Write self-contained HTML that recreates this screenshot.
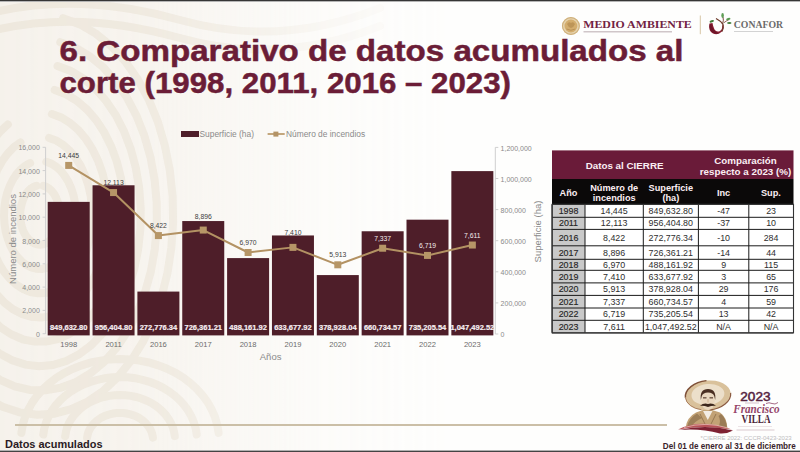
<!DOCTYPE html>
<html><head><meta charset="utf-8">
<style>
html,body{margin:0;padding:0;}
body{width:800px;height:452px;overflow:hidden;position:relative;background:#fefefd;font-family:"Liberation Sans",sans-serif;}
.abs{position:absolute;white-space:nowrap;}
.title{color:#6d1b36;font-weight:bold;font-size:30.5px;line-height:32px;}
svg text{font-family:"Liberation Sans",sans-serif;}
.ax{font-size:7px;fill:#8a8a8a;}
.cat{font-size:7.6px;fill:#6c6c6c;}
.bl{font-size:7.5px;font-weight:bold;fill:#f7eff2;stroke:#f7eff2;stroke-width:0.2px;}
.ll{font-size:6.8px;}
.at{font-size:9.5px;fill:#8a8a8a;}
.lg{font-size:8.4px;fill:#8a8a8a;}
.th{font-size:9.8px;font-weight:bold;}
.th2{font-size:9.2px;font-weight:bold;}
.td{font-size:8.9px;fill:#2e2e2e;}
.tdy{font-size:8.9px;fill:#262626;stroke:#262626;stroke-width:0.15px;}
</style></head>
<body>
<svg class="abs" style="left:0;top:0" width="800" height="452" viewBox="0 0 800 452">
<defs><linearGradient id="fade" x1="0" y1="0" x2="1" y2="0">
<stop offset="0" stop-color="#fff" stop-opacity="1"/>
<stop offset="0.3" stop-color="#fff" stop-opacity="0.85"/>
<stop offset="0.7" stop-color="#fff" stop-opacity="0.2"/>
<stop offset="1" stop-color="#fff" stop-opacity="0"/>
</linearGradient><mask id="m"><rect x="0" y="0" width="460" height="452" fill="url(#fade)"/></mask></defs>
<rect x="0" y="0" width="800" height="452" fill="#fefefd"/>
<rect x="0" y="0" width="460" height="452" fill="#f3eee6" mask="url(#m)" opacity="0.75"/>
<g mask="url(#m)" fill="none" stroke="#eee8dd" stroke-linecap="round">
<path d="M43.4 185.8 L46.3 186.8 L49.0 188.5 L51.5 190.8 L53.8 193.6 L55.7 196.9 L57.3 200.6 L58.5 204.6 L59.4 208.8 L59.8 213.2 L59.7 217.6 L59.3 221.9 L58.4 226.1 L57.1 230.1 L55.4 233.7 L53.4 236.9 L51.1 239.6 L48.5 241.8 L45.8 243.4 L42.9 244.4 L40.0 244.7 L37.1 244.4 L34.2 243.4 L31.5 241.8 L28.9 239.6 L26.6 236.9 L24.6 233.7 L22.9 230.1 L21.6 226.1 L20.7 221.9 L20.3 217.6 L20.2 213.2 L20.6 208.8 L21.5 204.6 L22.7 200.6 L24.3 196.9 L26.2 193.6 L28.5 190.8 L31.0 188.5 L33.7 186.8 L36.6 185.8" stroke-width="8"/>
<path d="M46.3 161.8 L51.3 163.7 L56.2 166.8 L60.7 170.8 L64.7 175.8 L68.3 181.6 L71.2 188.1 L73.5 195.2 L75.0 202.7 L75.9 210.4 L75.9 218.3 L75.2 226.1 L73.8 233.6 L71.6 240.8 L68.8 247.4 L65.3 253.4 L61.4 258.5 L56.9 262.7 L52.1 265.8 L47.1 267.9 L41.9 268.9 L36.6 268.8 L31.5 267.5 L26.5 265.1 L21.8 261.6 L17.5 257.1 L13.6 251.8 L10.3 245.6 L7.7 238.8 L5.7 231.6 L4.5 223.9 L4.0 216.1 L4.3 208.2 L5.3 200.5 L7.1 193.1 L9.6 186.2 L12.7 179.9 L16.4 174.3 L20.6 169.6 L25.2 165.8 L30.1 163.1" stroke-width="8"/>
<path d="M49.1 137.9 L56.3 140.6 L63.2 144.9 L69.6 150.5 L75.5 157.5 L80.6 165.7 L84.8 174.9 L88.2 184.9 L90.6 195.5 L91.9 206.5 L92.2 217.7 L91.4 228.9 L89.5 239.7 L86.7 250.1 L82.9 259.7 L78.2 268.4 L72.7 276.0 L66.6 282.4 L59.9 287.4 L52.8 290.9 L45.5 292.9 L38.0 293.2 L30.6 292.0 L23.4 289.2 L16.5 284.9 L10.1 279.1 L4.3 272.1 L-0.8 263.8 L-5.0 254.6 L-8.3 244.6 L-10.6 233.9 L-11.9 222.9 L-12.2 211.7 L-11.3 200.6 L-9.4 189.8 L-6.5 179.5 L-2.7 169.9 L2.1 161.2 L7.6 153.6 L13.7 147.3 L20.4 142.4" stroke-width="8"/>
<path d="M51.9 114.0 L61.2 117.4 L70.1 122.9 L78.4 130.1 L85.9 139.0 L92.6 149.4 L98.2 161.1 L102.7 173.8 L105.9 187.4 L107.8 201.5 L108.4 215.9 L107.6 230.3 L105.5 244.3 L102.2 257.8 L97.6 270.4 L91.8 282.0 L85.1 292.2 L77.4 300.9 L69.0 307.9 L60.1 313.1 L50.7 316.3 L41.1 317.6 L31.5 316.8 L22.1 314.0 L13.1 309.3 L4.5 302.7 L-3.3 294.4 L-10.3 284.5 L-16.3 273.3 L-21.2 260.9 L-24.9 247.6 L-27.3 233.6 L-28.3 219.3 L-28.1 204.9 L-26.5 190.7 L-23.5 177.0 L-19.4 164.0 L-14.0 152.0 L-7.6 141.3 L-0.3 132.0 L7.9 124.4" stroke-width="8"/>
<path d="M54.7 90.0 L66.0 94.2 L76.8 100.7 L86.9 109.4 L96.2 120.1 L104.3 132.6 L111.3 146.6 L116.9 162.0 L121.0 178.3 L123.6 195.4 L124.6 212.8 L124.0 230.2 L121.8 247.4 L118.0 264.0 L112.8 279.6 L106.2 294.0 L98.3 306.9 L89.4 318.1 L79.5 327.3 L68.8 334.3 L57.6 339.1 L46.0 341.6 L34.4 341.6 L22.8 339.3 L11.6 334.5 L0.9 327.6 L-9.0 318.4 L-18.0 307.4 L-25.9 294.5 L-32.6 280.2 L-37.9 264.6 L-41.7 248.1 L-43.9 230.9 L-44.6 213.4 L-43.6 196.0 L-41.1 179.0 L-37.0 162.6 L-31.5 147.2 L-24.6 133.1 L-16.5 120.5 L-7.3 109.8" stroke-width="8"/>
<path d="M57.5 66.1 L70.7 71.0 L83.4 78.5 L95.3 88.6 L106.1 100.9 L115.8 115.3 L124.1 131.5 L130.8 149.3 L135.9 168.3 L139.2 188.1 L140.7 208.4 L140.4 228.8 L138.2 249.0 L134.3 268.6 L128.6 287.1 L121.3 304.4 L112.5 320.0 L102.4 333.7 L91.2 345.3 L79.0 354.4 L66.1 361.0 L52.7 365.0 L39.1 366.2 L25.5 364.6 L12.2 360.3 L-0.6 353.4 L-12.7 343.9 L-23.8 332.1 L-33.7 318.1 L-42.3 302.3 L-49.4 284.8 L-54.9 266.1 L-58.6 246.4 L-60.5 226.2 L-60.6 205.8 L-58.9 185.5 L-55.3 165.8 L-50.0 146.9 L-43.1 129.4 L-34.6 113.3 L-24.8 99.2" stroke-width="8"/>
<path d="M60.3 42.2 L75.4 47.7 L89.8 56.2 L103.4 67.5 L115.8 81.4 L126.9 97.6 L136.5 115.8 L144.4 135.9 L150.5 157.3 L154.6 179.7 L156.7 202.8 L156.8 226.0 L154.8 249.1 L150.8 271.6 L144.8 293.0 L137.0 313.1 L127.5 331.5 L116.5 347.9 L104.1 361.9 L90.6 373.3 L76.2 381.9 L61.1 387.6 L45.7 390.3 L30.2 389.9 L14.9 386.4 L-0.0 379.9 L-14.2 370.5 L-27.4 358.4 L-39.5 343.8 L-50.2 326.9 L-59.2 308.0 L-66.5 287.5 L-72.0 265.7 L-75.5 243.1 L-77.0 219.9 L-76.4 196.7 L-73.7 173.7 L-69.1 151.5 L-62.5 130.5 L-54.2 110.9 L-44.2 93.1" stroke-width="8"/>
<path d="M63.1 18.2 L79.9 24.4 L96.1 33.8 L111.3 46.2 L125.3 61.5 L137.8 79.4 L148.7 99.5 L157.8 121.7 L164.8 145.4 L169.8 170.2 L172.6 195.9 L173.1 221.8 L171.4 247.6 L167.5 272.9 L161.4 297.2 L153.3 320.1 L143.2 341.3 L131.4 360.3 L118.1 376.8 L103.5 390.7 L87.7 401.5 L71.2 409.2 L54.2 413.7 L36.9 414.7 L19.6 412.4 L2.7 406.8 L-13.5 397.9 L-28.9 386.0 L-43.1 371.1 L-55.9 353.7 L-67.1 333.8 L-76.4 312.0 L-83.8 288.6 L-89.2 263.8 L-92.3 238.3 L-93.2 212.4 L-91.8 186.5 L-88.3 161.1 L-82.5 136.6 L-74.7 113.4 L-65.0 92.0" stroke-width="8"/>
<path d="M87.1 437.6 L87.6 435.0 L88.3 432.4 L89.4 429.9 L90.8 427.5 L92.4 425.2 L94.4 423.0 L96.5 421.0 L98.9 419.2 L101.5 417.6 L104.3 416.2 L107.3 415.1 L110.4 414.2 L113.5 413.5 L116.7 413.1 L120.0 413.0 L123.3 413.1 L126.5 413.5 L129.6 414.2 L132.7 415.1 L135.7 416.2 L138.5 417.6 L141.1 419.2 L143.5 421.0 L145.6 423.0 L147.6 425.2 L149.2 427.5 L150.6 429.9 L151.7 432.4 L152.4 435.0 L152.9 437.6" stroke-width="8"/>
<path d="M65.2 436.1 L66.0 431.7 L67.2 427.3 L69.0 423.1 L71.3 419.1 L74.0 415.3 L77.3 411.7 L80.9 408.4 L84.9 405.4 L89.2 402.7 L93.9 400.4 L98.8 398.5 L103.9 397.0 L109.2 395.9 L114.6 395.2 L120.0 395.0 L125.4 395.2 L130.8 395.9 L136.1 397.0 L141.2 398.5 L146.1 400.4 L150.8 402.7 L155.1 405.4 L159.1 408.4 L162.7 411.7 L166.0 415.3 L168.7 419.1 L171.0 423.1 L172.8 427.3 L174.0 431.7 L174.8 436.1" stroke-width="8"/>
<path d="M43.3 434.5 L44.3 428.3 L46.1 422.3 L48.6 416.4 L51.8 410.7 L55.7 405.4 L60.2 400.4 L65.2 395.7 L70.8 391.5 L76.9 387.8 L83.5 384.5 L90.3 381.9 L97.5 379.8 L104.9 378.2 L112.4 377.3 L120.0 377.0 L127.6 377.3 L135.1 378.2 L142.5 379.8 L149.7 381.9 L156.5 384.5 L163.1 387.8 L169.2 391.5 L174.8 395.7 L179.8 400.4 L184.3 405.4 L188.2 410.7 L191.4 416.4 L193.9 422.3 L195.7 428.3 L196.7 434.5" stroke-width="8"/>
<path d="M21.4 432.9 L22.7 425.0 L25.0 417.2 L28.2 409.7 L32.3 402.4 L37.3 395.5 L43.1 389.0 L49.6 383.1 L56.8 377.6 L64.6 372.8 L73.0 368.7 L81.8 365.3 L91.1 362.5 L100.5 360.6 L110.2 359.4 L120.0 359.0 L129.8 359.4 L139.5 360.6 L148.9 362.5 L158.2 365.3 L167.0 368.7 L175.4 372.8 L183.2 377.6 L190.4 383.1 L196.9 389.0 L202.7 395.5 L207.7 402.4 L211.8 409.7 L215.0 417.2 L217.3 425.0 L218.6 432.9" stroke-width="8"/>
<path d="M-5 12 Q80 -8 180 20 T380 8" stroke-width="8"/>
<path d="M-5 30 Q80 10 180 38 T380 26" stroke-width="8"/>
</g></svg>
<div class="abs" style="left:0;top:0;width:800px;height:1px;background:#363636"></div><div class="abs" style="left:0;top:1px;width:800px;height:1px;background:#b5b5b5"></div>
<div class="abs" style="left:0;top:450px;width:800px;height:1px;background:#b0b0b0"></div><div class="abs" style="left:0;top:451px;width:800px;height:1px;background:#444"></div>

<svg class="abs" style="left:0;top:0" width="800" height="452" viewBox="0 0 800 452">
<text x="59.5" y="60.6" style="font-weight:bold;font-size:30px" fill="#6b1d37" textLength="624" lengthAdjust="spacingAndGlyphs" stroke="#6b1d37" stroke-width="0.5">6. Comparativo de datos acumulados al</text>
<text x="59.5" y="92.5" style="font-weight:bold;font-size:30px" fill="#6b1d37" textLength="451.5" lengthAdjust="spacingAndGlyphs" stroke="#6b1d37" stroke-width="0.5">corte (1998, 2011, 2016 – 2023)</text>
</svg>
<svg class="abs" style="left:0;top:0" width="800" height="452" viewBox="0 0 800 452">
<!-- seal -->
<circle cx="570.9" cy="26" r="9" fill="#e6d3ae"/>
<circle cx="570.9" cy="26" r="8.4" fill="none" stroke="#cfb07c" stroke-width="1.1"/>
<circle cx="570.9" cy="26" r="6.4" fill="#d3ad6e"/>
<path d="M567 24 q2 -3 4 -1 q2 -2 4 1 q-1 3 -4 4 q-3 -1 -4 -4z" fill="#b88f52" opacity="0.8"/>
<path d="M566.5 29 q4.4 2.5 8.8 0" fill="none" stroke="#b78e55" stroke-width="0.9"/>
<text x="583.2" y="27.7" style="font-family:'Liberation Serif'" font-weight="bold" font-size="10.6" fill="#722343" textLength="108.6" lengthAdjust="spacingAndGlyphs">MEDIO AMBIENTE</text>
<rect x="583.5" y="31.2" width="88.5" height="1.2" fill="#c5b8bc"/>
<rect x="699.8" y="15.5" width="1" height="18.7" fill="#d8c6a6"/>
<!-- conafor icon -->
<path d="M709.5 23.5 Q708 31 713 33.5 Q718 35.5 722 31.5 Q723.8 28.5 723.5 25 L722.2 25.5 Q722.5 29.5 720 31 Q716.5 32.5 714.5 29.5 Q713 26.5 712.5 23z" fill="#8a1f33"/>
<path d="M709.5 24.5 Q709 30 712.5 32.5 Q716 34.5 719 33.5 Q714 31 712.5 27.5 Q711.5 25.5 711.5 24z" fill="#6e1528"/>
<path d="M716 18.5 Q721 21 723 24.5 Q724 28 722 31.5" fill="none" stroke="#6d3a2a" stroke-width="1.3"/>
<path d="M722.5 24 Q724 20 723 17" fill="none" stroke="#6d3a2a" stroke-width="0.9"/>
<path d="M723.5 23 Q726 21 729 19.5" fill="none" stroke="#6d3a2a" stroke-width="0.8"/>
<ellipse cx="711.8" cy="21.3" rx="2.3" ry="1.1" transform="rotate(-20 711.8 21.3)" fill="#3f7a35"/>
<ellipse cx="722.6" cy="15.5" rx="1.3" ry="2.4" fill="#5f9e57"/>
<ellipse cx="728.3" cy="19" rx="2.2" ry="1.1" transform="rotate(-15 728.3 19)" fill="#5a9a4f"/>
<ellipse cx="729.3" cy="23" rx="2.2" ry="1.1" fill="#3f7d38"/>
<text x="733.8" y="28" style="font-family:'Liberation Serif'" font-weight="bold" font-size="10" fill="#6b6b6b" textLength="49.2" lengthAdjust="spacingAndGlyphs">CONAFOR</text>
<rect x="734" y="31" width="39" height="0.9" fill="#cfcfcf"/>
</svg>

<svg class="abs" style="left:0;top:0" width="800" height="452" viewBox="0 0 800 452">
<line x1="45.6" y1="147.3" x2="45.6" y2="334" stroke="#cfcfcf" stroke-width="1"/>
<line x1="495.3" y1="147.3" x2="495.3" y2="334" stroke="#cfcfcf" stroke-width="1"/>
<line x1="42.6" y1="333.70" x2="45.6" y2="333.70" stroke="#cfcfcf" stroke-width="1"/>
<text x="39.8" y="336.70" text-anchor="end" class="ax">0</text>
<line x1="42.6" y1="310.40" x2="45.6" y2="310.40" stroke="#cfcfcf" stroke-width="1"/>
<text x="39.8" y="313.40" text-anchor="end" class="ax">2,000</text>
<line x1="42.6" y1="287.10" x2="45.6" y2="287.10" stroke="#cfcfcf" stroke-width="1"/>
<text x="39.8" y="290.10" text-anchor="end" class="ax">4,000</text>
<line x1="42.6" y1="263.80" x2="45.6" y2="263.80" stroke="#cfcfcf" stroke-width="1"/>
<text x="39.8" y="266.80" text-anchor="end" class="ax">6,000</text>
<line x1="42.6" y1="240.50" x2="45.6" y2="240.50" stroke="#cfcfcf" stroke-width="1"/>
<text x="39.8" y="243.50" text-anchor="end" class="ax">8,000</text>
<line x1="42.6" y1="217.20" x2="45.6" y2="217.20" stroke="#cfcfcf" stroke-width="1"/>
<text x="39.8" y="220.20" text-anchor="end" class="ax">10,000</text>
<line x1="42.6" y1="193.90" x2="45.6" y2="193.90" stroke="#cfcfcf" stroke-width="1"/>
<text x="39.8" y="196.90" text-anchor="end" class="ax">12,000</text>
<line x1="42.6" y1="170.60" x2="45.6" y2="170.60" stroke="#cfcfcf" stroke-width="1"/>
<text x="39.8" y="173.60" text-anchor="end" class="ax">14,000</text>
<line x1="42.6" y1="147.30" x2="45.6" y2="147.30" stroke="#cfcfcf" stroke-width="1"/>
<text x="39.8" y="150.30" text-anchor="end" class="ax">16,000</text>
<line x1="495.3" y1="334.00" x2="498.3" y2="334.00" stroke="#cfcfcf" stroke-width="1"/>
<text x="500.6" y="337.20" text-anchor="start" class="ax">0</text>
<line x1="495.3" y1="302.90" x2="498.3" y2="302.90" stroke="#cfcfcf" stroke-width="1"/>
<text x="500.6" y="306.10" text-anchor="start" class="ax">200,000</text>
<line x1="495.3" y1="271.80" x2="498.3" y2="271.80" stroke="#cfcfcf" stroke-width="1"/>
<text x="500.6" y="275.00" text-anchor="start" class="ax">400,000</text>
<line x1="495.3" y1="240.70" x2="498.3" y2="240.70" stroke="#cfcfcf" stroke-width="1"/>
<text x="500.6" y="243.90" text-anchor="start" class="ax">600,000</text>
<line x1="495.3" y1="209.60" x2="498.3" y2="209.60" stroke="#cfcfcf" stroke-width="1"/>
<text x="500.6" y="212.80" text-anchor="start" class="ax">800,000</text>
<line x1="495.3" y1="178.50" x2="498.3" y2="178.50" stroke="#cfcfcf" stroke-width="1"/>
<text x="500.6" y="181.70" text-anchor="start" class="ax">1,000,000</text>
<line x1="495.3" y1="147.40" x2="498.3" y2="147.40" stroke="#cfcfcf" stroke-width="1"/>
<text x="500.6" y="150.60" text-anchor="start" class="ax">1,200,000</text>
<rect x="47.70" y="201.88" width="42" height="133.52" fill="#4e1e29"/>
<text x="68.70" y="329.8" text-anchor="middle" class="bl">849,632.80</text>
<text x="68.70" y="347.2" text-anchor="middle" class="cat">1998</text>
<rect x="92.55" y="185.28" width="42" height="150.12" fill="#4e1e29"/>
<text x="113.55" y="329.8" text-anchor="middle" class="bl">956,404.80</text>
<text x="113.55" y="347.2" text-anchor="middle" class="cat">2011</text>
<rect x="137.40" y="291.58" width="42" height="43.82" fill="#4e1e29"/>
<text x="158.40" y="329.8" text-anchor="middle" class="bl">272,776.34</text>
<text x="158.40" y="347.2" text-anchor="middle" class="cat">2016</text>
<rect x="182.25" y="221.05" width="42" height="114.35" fill="#4e1e29"/>
<text x="203.25" y="329.8" text-anchor="middle" class="bl">726,361.21</text>
<text x="203.25" y="347.2" text-anchor="middle" class="cat">2017</text>
<rect x="227.10" y="258.09" width="42" height="77.31" fill="#4e1e29"/>
<text x="248.10" y="329.8" text-anchor="middle" class="bl">488,161.92</text>
<text x="248.10" y="347.2" text-anchor="middle" class="cat">2018</text>
<rect x="271.95" y="235.46" width="42" height="99.94" fill="#4e1e29"/>
<text x="292.95" y="329.8" text-anchor="middle" class="bl">633,677.92</text>
<text x="292.95" y="347.2" text-anchor="middle" class="cat">2019</text>
<rect x="316.80" y="275.08" width="42" height="60.32" fill="#4e1e29"/>
<text x="337.80" y="329.8" text-anchor="middle" class="bl">378,928.04</text>
<text x="337.80" y="347.2" text-anchor="middle" class="cat">2020</text>
<rect x="361.65" y="231.26" width="42" height="104.14" fill="#4e1e29"/>
<text x="382.65" y="329.8" text-anchor="middle" class="bl">660,734.57</text>
<text x="382.65" y="347.2" text-anchor="middle" class="cat">2021</text>
<rect x="406.50" y="219.68" width="42" height="115.72" fill="#4e1e29"/>
<text x="427.50" y="329.8" text-anchor="middle" class="bl">735,205.54</text>
<text x="427.50" y="347.2" text-anchor="middle" class="cat">2022</text>
<rect x="451.35" y="171.11" width="42" height="164.29" fill="#4e1e29"/>
<text x="472.35" y="329.8" text-anchor="middle" class="bl">1,047,492.52</text>
<text x="472.35" y="347.2" text-anchor="middle" class="cat">2023</text>
<polyline points="68.70,165.42 113.55,192.58 158.40,235.58 203.25,230.06 248.10,252.50 292.95,247.37 337.80,264.81 382.65,248.22 427.50,255.42 472.35,245.03" fill="none" stroke="#b39263" stroke-width="2" stroke-linejoin="round"/>
<rect x="65.20" y="161.92" width="7" height="7" fill="#b69667"/>
<rect x="110.05" y="189.08" width="7" height="7" fill="#b69667"/>
<rect x="154.90" y="232.08" width="7" height="7" fill="#b69667"/>
<rect x="199.75" y="226.56" width="7" height="7" fill="#b69667"/>
<rect x="244.60" y="249.00" width="7" height="7" fill="#b69667"/>
<rect x="289.45" y="243.87" width="7" height="7" fill="#b69667"/>
<rect x="334.30" y="261.31" width="7" height="7" fill="#b69667"/>
<rect x="379.15" y="244.72" width="7" height="7" fill="#b69667"/>
<rect x="424.00" y="251.92" width="7" height="7" fill="#b69667"/>
<rect x="468.85" y="241.53" width="7" height="7" fill="#b69667"/>
<text x="68.70" y="158.02" text-anchor="middle" class="ll" fill="#404040">14,445</text>
<text x="113.55" y="185.18" text-anchor="middle" class="ll" fill="#404040">12,113</text>
<text x="158.40" y="228.18" text-anchor="middle" class="ll" fill="#404040">8,422</text>
<text x="203.25" y="218.75" text-anchor="middle" class="ll" fill="#404040">8,896</text>
<text x="248.10" y="245.10" text-anchor="middle" class="ll" fill="#404040">6,970</text>
<text x="292.95" y="234.50" text-anchor="middle" class="ll" fill="#404040">7,410</text>
<text x="337.80" y="257.41" text-anchor="middle" class="ll" fill="#404040">5,913</text>
<text x="382.65" y="240.82" text-anchor="middle" class="ll" fill="#f3ecee">7,337</text>
<text x="427.50" y="248.02" text-anchor="middle" class="ll" fill="#f3ecee">6,719</text>
<text x="472.35" y="237.63" text-anchor="middle" class="ll" fill="#f3ecee">7,611</text>
<text transform="translate(16,239) rotate(-90)" text-anchor="middle" class="at">Número de incendios</text>
<text transform="translate(540.8,231.5) rotate(-90)" text-anchor="middle" class="at">Superficie (ha)</text>
<text x="270.6" y="359.7" text-anchor="middle" class="at">Años</text>
<rect x="181" y="131" width="18" height="6" fill="#4e1e29"/>
<text x="199.5" y="136.7" class="lg">Superficie (ha)</text>
<line x1="267.6" y1="134" x2="284.7" y2="134" stroke="#bd9d70" stroke-width="1.8"/>
<rect x="273.4" y="131.6" width="5" height="5" fill="#b39366"/>
<text x="286" y="136.7" class="lg">Número de incendios</text>
</svg>
<svg class="abs" style="left:0;top:0" width="800" height="452" viewBox="0 0 800 452">
<rect x="552" y="150.4" width="241.5" height="28.6" fill="#6a1b39"/>
<rect x="552" y="179" width="241.5" height="25.3" fill="#0b0909"/>
<rect x="552" y="204.3" width="33" height="128.4" fill="#c9c9c9"/>
<rect x="585" y="204.3" width="208.5" height="128.4" fill="#ffffff"/>
<line x1="552" y1="204.3" x2="793" y2="204.3" stroke="#1a1a1a" stroke-width="1"/>
<line x1="552" y1="217.3" x2="793" y2="217.3" stroke="#1a1a1a" stroke-width="1"/>
<line x1="552" y1="229.4" x2="793" y2="229.4" stroke="#1a1a1a" stroke-width="1"/>
<line x1="552" y1="245.8" x2="793" y2="245.8" stroke="#1a1a1a" stroke-width="1"/>
<line x1="552" y1="259.3" x2="793" y2="259.3" stroke="#1a1a1a" stroke-width="1"/>
<line x1="552" y1="270.3" x2="793" y2="270.3" stroke="#1a1a1a" stroke-width="1"/>
<line x1="552" y1="282.9" x2="793" y2="282.9" stroke="#1a1a1a" stroke-width="1"/>
<line x1="552" y1="295.4" x2="793" y2="295.4" stroke="#1a1a1a" stroke-width="1"/>
<line x1="552" y1="308" x2="793" y2="308" stroke="#1a1a1a" stroke-width="1"/>
<line x1="552" y1="320.3" x2="793" y2="320.3" stroke="#1a1a1a" stroke-width="1"/>
<line x1="552" y1="332.9" x2="793" y2="332.9" stroke="#1a1a1a" stroke-width="1"/>
<line x1="552" y1="204.3" x2="552" y2="332.7" stroke="#1a1a1a" stroke-width="1"/>
<line x1="585" y1="204.3" x2="585" y2="332.7" stroke="#1a1a1a" stroke-width="1"/>
<line x1="643.3" y1="204.3" x2="643.3" y2="332.7" stroke="#1a1a1a" stroke-width="1"/>
<line x1="698.4" y1="204.3" x2="698.4" y2="332.7" stroke="#1a1a1a" stroke-width="1"/>
<line x1="748.8" y1="204.3" x2="748.8" y2="332.7" stroke="#1a1a1a" stroke-width="1"/>
<line x1="793.5" y1="204.3" x2="793.5" y2="332.7" stroke="#1a1a1a" stroke-width="1"/>
<text x="624.6" y="168.8" text-anchor="middle" class="th" fill="#fbeef3">Datos al CIERRE</text>
<text x="745.5" y="164" text-anchor="middle" class="th" fill="#fbeef3">Comparación</text>
<text x="745.5" y="174.6" text-anchor="middle" class="th" fill="#fbeef3">respecto a 2023 (%)</text>
<text x="568.5" y="195.6" text-anchor="middle" class="th2" fill="#fbeef3">Año</text>
<text x="614.2" y="190.8" text-anchor="middle" class="th2" fill="#fbeef3">Número de</text>
<text x="614.2" y="201" text-anchor="middle" class="th2" fill="#fbeef3">incendios</text>
<text x="670.8" y="190.8" text-anchor="middle" class="th2" fill="#fbeef3">Superficie</text>
<text x="670.8" y="201" text-anchor="middle" class="th2" fill="#fbeef3">(ha)</text>
<text x="723.6" y="195.6" text-anchor="middle" class="th2" fill="#fbeef3">Inc</text>
<text x="770.9" y="195.6" text-anchor="middle" class="th2" fill="#fbeef3">Sup.</text>
<text x="568.5" y="213.90" text-anchor="middle" class="tdy">1998</text>
<text x="614.1" y="213.90" text-anchor="middle" class="td">14,445</text>
<text x="670.8" y="213.90" text-anchor="middle" class="td">849,632.80</text>
<text x="723.6" y="213.90" text-anchor="middle" class="td">-47</text>
<text x="771.1" y="213.90" text-anchor="middle" class="td">23</text>
<text x="568.5" y="226.45" text-anchor="middle" class="tdy">2011</text>
<text x="614.1" y="226.45" text-anchor="middle" class="td">12,113</text>
<text x="670.8" y="226.45" text-anchor="middle" class="td">956,404.80</text>
<text x="723.6" y="226.45" text-anchor="middle" class="td">-37</text>
<text x="771.1" y="226.45" text-anchor="middle" class="td">10</text>
<text x="568.5" y="240.70" text-anchor="middle" class="tdy">2016</text>
<text x="614.1" y="240.70" text-anchor="middle" class="td">8,422</text>
<text x="670.8" y="240.70" text-anchor="middle" class="td">272,776.34</text>
<text x="723.6" y="240.70" text-anchor="middle" class="td">-10</text>
<text x="771.1" y="240.70" text-anchor="middle" class="td">284</text>
<text x="568.5" y="255.65" text-anchor="middle" class="tdy">2017</text>
<text x="614.1" y="255.65" text-anchor="middle" class="td">8,896</text>
<text x="670.8" y="255.65" text-anchor="middle" class="td">726,361.21</text>
<text x="723.6" y="255.65" text-anchor="middle" class="td">-14</text>
<text x="771.1" y="255.65" text-anchor="middle" class="td">44</text>
<text x="568.5" y="267.90" text-anchor="middle" class="tdy">2018</text>
<text x="614.1" y="267.90" text-anchor="middle" class="td">6,970</text>
<text x="670.8" y="267.90" text-anchor="middle" class="td">488,161.92</text>
<text x="723.6" y="267.90" text-anchor="middle" class="td">9</text>
<text x="771.1" y="267.90" text-anchor="middle" class="td">115</text>
<text x="568.5" y="279.70" text-anchor="middle" class="tdy">2019</text>
<text x="614.1" y="279.70" text-anchor="middle" class="td">7,410</text>
<text x="670.8" y="279.70" text-anchor="middle" class="td">633,677.92</text>
<text x="723.6" y="279.70" text-anchor="middle" class="td">3</text>
<text x="771.1" y="279.70" text-anchor="middle" class="td">65</text>
<text x="568.5" y="292.25" text-anchor="middle" class="tdy">2020</text>
<text x="614.1" y="292.25" text-anchor="middle" class="td">5,913</text>
<text x="670.8" y="292.25" text-anchor="middle" class="td">378,928.04</text>
<text x="723.6" y="292.25" text-anchor="middle" class="td">29</text>
<text x="771.1" y="292.25" text-anchor="middle" class="td">176</text>
<text x="568.5" y="304.80" text-anchor="middle" class="tdy">2021</text>
<text x="614.1" y="304.80" text-anchor="middle" class="td">7,337</text>
<text x="670.8" y="304.80" text-anchor="middle" class="td">660,734.57</text>
<text x="723.6" y="304.80" text-anchor="middle" class="td">4</text>
<text x="771.1" y="304.80" text-anchor="middle" class="td">59</text>
<text x="568.5" y="317.25" text-anchor="middle" class="tdy">2022</text>
<text x="614.1" y="317.25" text-anchor="middle" class="td">6,719</text>
<text x="670.8" y="317.25" text-anchor="middle" class="td">735,205.54</text>
<text x="723.6" y="317.25" text-anchor="middle" class="td">13</text>
<text x="771.1" y="317.25" text-anchor="middle" class="td">42</text>
<text x="568.5" y="329.70" text-anchor="middle" class="tdy">2023</text>
<text x="614.1" y="329.70" text-anchor="middle" class="td">7,611</text>
<text x="670.8" y="329.70" text-anchor="middle" class="td">1,047,492.52</text>
<text x="723.6" y="329.70" text-anchor="middle" class="td">N/A</text>
<text x="771.1" y="329.70" text-anchor="middle" class="td">N/A</text>
<rect x="552.2" y="204.3" width="241.3" height="128.6" fill="none" stroke="#333" stroke-width="1.1"/>
</svg>
<div class="abs" style="left:15px;top:424px;width:652px;height:2px;background:#cbbfa7"></div>
<svg class="abs" style="left:0;top:0" width="800" height="452" viewBox="0 0 800 452">
<!-- body -->
<path d="M685.5 428 Q687 417 696 412.5 L703 410 L712 410 L720 412.5 Q727 417 727.5 429 Q706 425 685.5 428z" fill="#c2a275"/>
<path d="M687 427 Q689 418 697 413.5 L702 418 Q695 421 691 427z" fill="#9c7f58"/>
<path d="M721 414 Q726.5 419 727 428 L719 426 Q721 420 718.5 416z" fill="#9a7c56"/>
<path d="M703 411 L707.8 420 L712.5 411z" fill="#f3ede4"/>
<path d="M700 414 L705 424" stroke="#8a6c48" stroke-width="0.8"/>
<path d="M716 414 L711 424" stroke="#8a6c48" stroke-width="0.8"/>
<!-- swoosh -->
<path d="M678 429.5 Q700 418 732 429.5 Q704 424.5 678 429.5z" fill="#b9545a"/>
<path d="M679 430 Q706 424 733 430.5 Q727 434 720 433.5 Q700 428 679 430z" fill="#7e2233"/>
<path d="M684 427.5 Q706 421 728 428" fill="none" stroke="#e6bfb4" stroke-width="0.8"/>
<!-- sombrero -->
<g transform="rotate(-6 708 395.3)">
<ellipse cx="708" cy="395.3" rx="22.8" ry="14.8" fill="#d9c19b"/>
<path d="M685.3 395.3 A22.8 14.8 0 0 1 708 380.5" fill="none" stroke="#7e5038" stroke-width="1.4"/>
<path d="M730.8 395.3 A22.8 14.8 0 0 1 708 410.1" fill="none" stroke="#8a5a40" stroke-width="1.2"/>
<path d="M685.3 395.3 A22.8 14.8 0 0 0 700 409" fill="none" stroke="#a77a5a" stroke-width="0.9"/>
<ellipse cx="708" cy="394.5" rx="16.5" ry="10.5" fill="#ecdfca"/>
</g>
<!-- face -->
<path d="M701.3 396 Q701.3 389.5 708 390 Q714.7 389.5 714.7 396 L714.7 402 Q713.8 409.5 708 410 Q702.2 409.5 701.3 402z" fill="#e9d7bf"/>
<path d="M700.8 400 Q699.5 389 708 389 Q716.5 389 715.2 400 L714.2 396 Q713 392.5 708 392.5 Q703 392.5 701.8 396z" fill="#4a2f22"/>
<path d="M700 405.8 Q704 402.3 708 404 Q712 402.3 716 405.8 Q712 405.3 708 407 Q704 405.3 700 405.8z" fill="#3b261c"/>
<rect x="703" y="397.3" width="3.5" height="1.1" fill="#4e3325"/>
<rect x="709.5" y="397.3" width="3.5" height="1.1" fill="#4e3325"/>
<rect x="707.5" y="399" width="1" height="3.5" fill="#cdb194"/>
<text x="740.3" y="401.2" style="font-family:'Liberation Sans';font-weight:normal;font-size:12.2px" fill="#55233f" stroke="#55233f" stroke-width="0.5" textLength="30.2" lengthAdjust="spacingAndGlyphs">2023</text>
<rect x="745" y="402.6" width="14" height="0.8" fill="#cdb5bf"/>
<path d="M766 403.5 q3 -1.5 6 0 q3 1.5 6 -1" fill="none" stroke="#9c5a78" stroke-width="0.9"/>
<text x="733.2" y="412.8" style="font-family:'Liberation Serif';font-weight:bold;font-style:italic;font-size:11.5px" fill="#95466a" textLength="46.5" lengthAdjust="spacingAndGlyphs">Francisco</text>
<text x="741.6" y="423.3" style="font-family:'Liberation Serif';font-weight:bold;font-size:11.6px" fill="#4b2237" textLength="29" lengthAdjust="spacingAndGlyphs">VILLA</text>
<rect x="738" y="426.3" width="34" height="0.6" fill="#e0d0d6"/>
<rect x="736.5" y="429.5" width="38" height="1" fill="#d9c9cf"/>
</svg>

<svg class="abs" style="left:0;top:0" width="800" height="452" viewBox="0 0 800 452">
<text x="5" y="448" style="font-weight:bold;font-size:10.2px" fill="#2b1b24" textLength="97.5" lengthAdjust="spacingAndGlyphs">Datos acumulados</text>
<text x="662.8" y="448.5" style="font-weight:bold;font-size:9.2px" fill="#3b1e2c" textLength="133" lengthAdjust="spacingAndGlyphs">Del 01 de enero al 31 de diciembre</text>
<text x="700.6" y="440.2" style="font-size:5.8px" fill="#bdbdbd" textLength="91" lengthAdjust="spacingAndGlyphs">*CIERRE 2022: CCCR-0423-2023</text>
</svg>
</body></html>
